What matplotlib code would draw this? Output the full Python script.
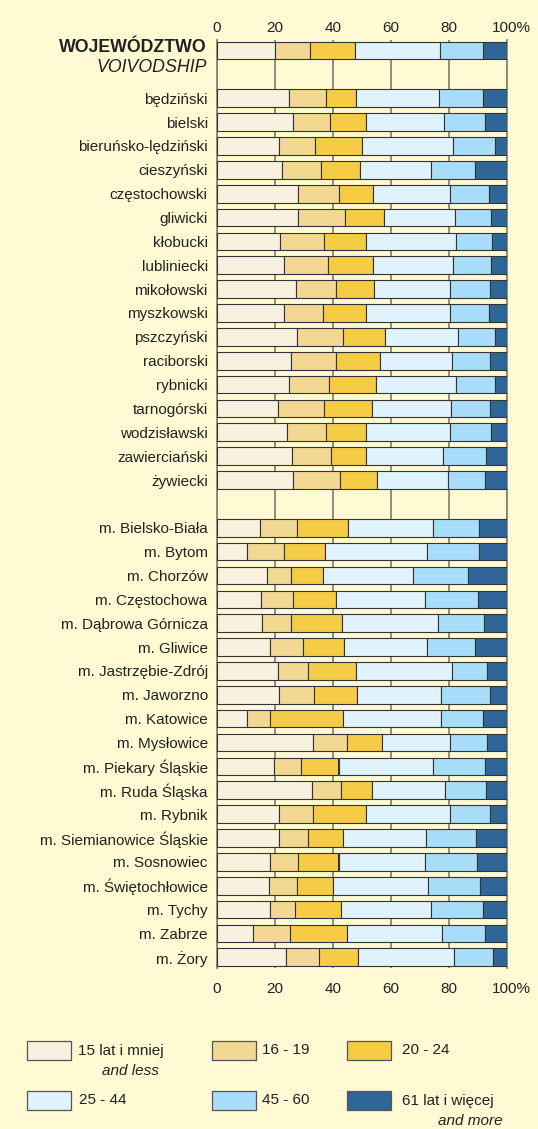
import matplotlib
matplotlib.use("Agg")
import matplotlib.pyplot as plt
import matplotlib.transforms as mtransforms
from matplotlib.patches import Rectangle
import numpy as np

plt.rcParams['font.family'] = ['Liberation Sans', 'DejaVu Sans']

powiats = ["będziński", "bielski", "bieruńsko-lędziński", "cieszyński", "częstochowski",
           "gliwicki", "kłobucki", "lubliniecki", "mikołowski", "myszkowski", "pszczyński",
           "raciborski", "rybnicki", "tarnogórski", "wodzisławski", "zawierciański", "żywiecki"]
cities = ["m. Bielsko-Biała", "m. Bytom", "m. Chorzów", "m. Częstochowa", "m. Dąbrowa Górnicza",
          "m. Gliwice", "m. Jastrzębie-Zdrój", "m. Jaworzno", "m. Katowice", "m. Mysłowice",
          "m. Piekary Śląskie", "m. Ruda Śląska", "m. Rybnik", "m. Siemianowice Śląskie",
          "m. Sosnowiec", "m. Świętochłowice", "m. Tychy", "m. Zabrze", "m. Żory"]

# order: voivodship, powiats (17), cities (19)
age_15_less = [20.1,
               25.1, 26.4, 21.4, 22.6, 28.0, 28.2, 21.8, 23.3, 27.4, 23.3, 27.7, 25.5, 24.8, 21.0, 24.4, 26.0, 26.4,
               15.1, 10.6, 17.2, 15.2, 15.5, 18.5, 21.0, 21.4, 10.6, 33.1, 19.7, 32.8, 21.4, 21.4, 18.5, 18.0, 18.5, 12.6, 24.0]
age_16_19 = [11.9,
             12.6, 12.6, 12.6, 13.5, 14.3, 16.2, 15.1, 15.2, 13.6, 13.3, 16.0, 15.5, 13.8, 15.9, 13.4, 13.3, 16.2,
             12.7, 12.5, 8.3, 11.2, 10.1, 11.4, 10.4, 12.2, 7.9, 11.7, 9.3, 10.0, 11.7, 10.0, 9.7, 9.7, 8.4, 12.6, 11.3]
age_20_24 = [15.8,
             10.5, 12.6, 16.2, 13.3, 11.7, 13.4, 14.7, 15.5, 13.4, 14.9, 14.5, 15.4, 16.2, 16.7, 13.7, 12.2, 12.6,
             17.4, 14.1, 11.1, 14.6, 17.5, 14.1, 16.8, 14.9, 25.2, 12.1, 13.0, 10.8, 18.4, 12.3, 13.8, 12.3, 15.9, 19.9, 13.3]
age_25_44 = [29.3,
             28.4, 26.7, 31.4, 24.4, 26.3, 24.3, 30.9, 27.6, 26.1, 28.8, 25.1, 24.9, 27.7, 27.2, 29.0, 26.4, 24.7,
             29.3, 35.2, 31.2, 30.7, 33.1, 28.4, 32.9, 29.0, 33.8, 23.4, 32.5, 25.0, 28.8, 28.4, 29.7, 32.9, 31.0, 32.5, 33.2]
age_45_60 = [14.9,
             15.4, 14.1, 14.3, 15.4, 13.5, 12.5, 12.6, 13.0, 13.8, 13.5, 12.6, 13.0, 13.4, 13.5, 14.2, 15.0, 12.6,
             15.8, 17.9, 19.0, 18.3, 15.9, 16.8, 12.2, 16.8, 14.2, 13.0, 18.0, 14.3, 14.0, 17.4, 18.0, 17.9, 17.9, 14.8, 13.6]
age_61_more = [8.0,
               8.0, 7.6, 4.1, 10.8, 6.2, 5.4, 4.9, 5.4, 5.7, 6.2, 4.1, 5.7, 4.1, 5.7, 5.3, 7.1, 7.5,
               9.7, 9.7, 13.2, 10.0, 7.9, 10.8, 6.7, 5.7, 8.3, 6.7, 7.5, 7.1, 5.7, 10.5, 10.3, 9.2, 8.3, 7.6, 4.6]

xticks = [0, 20, 40, 60, 80, 100]
xtick_labels = ["0", "20", "40", "60", "80", "100%"]

series = [age_15_less, age_16_19, age_20_24, age_25_44, age_45_60, age_61_more]
colors = ["#f9f1df", "#f3d894", "#f5cc45", "#e0f2fc", "#a8ddf9", "#2e6698"]
bg = "#fffad3"

W, H = 538, 1129
fig = plt.figure(figsize=(W / 100, H / 100), dpi=100, facecolor=bg)
ax = fig.add_axes([216.7 / W, 1 - 968 / H, 290 / W, 928 / H])
ax.set_facecolor(bg)

# row positions: voivodship, gap, powiats, gap, cities
ypos = [0] + list(range(2, 2 + len(powiats))) + list(range(3 + len(powiats), 3 + len(powiats) + len(cities)))
ypos = np.array(ypos)

left = np.zeros(len(ypos))
for vals, col in zip(series, colors):
    vals = np.array(vals)
    ax.barh(ypos, vals, left=left, height=0.74, color=col, edgecolor="#333333", linewidth=0.8, zorder=3)
    left += vals

ax.set_xlim(0, 100)
ax.set_ylim(ypos[-1] + 0.45, -0.44)
ax.set_xticks(xticks)
ax.set_xticklabels(xtick_labels)
ax.xaxis.grid(True, color="#8c8474", linewidth=1.3, zorder=0)
ax.set_axisbelow(True)
ax.tick_params(axis="x", length=0, labeltop=True, labelbottom=True, labelsize=11, colors="#222222", pad=10)
ax.tick_params(axis="y", length=0, labelsize=11, colors="#222222", pad=6.5)

# shift the "100%" labels so that "100" sits on the tick; move top labels closer to the bars
offset = mtransforms.ScaledTranslation(4.5 / 100, 0, fig.dpi_scale_trans)
down = mtransforms.ScaledTranslation(0, -9 / 100, fig.dpi_scale_trans)
for t in ax.xaxis.get_major_ticks():
    t.label2.set_transform(t.label2.get_transform() + down)
    if t.label2.get_text() == "100%":
        t.label2.set_transform(t.label2.get_transform() + offset)
    if t.label1.get_text() == "100%":
        t.label1.set_transform(t.label1.get_transform() + offset)

ax.set_yticks(ypos[1:])
ax.set_yticklabels(powiats + cities)

for s in ["top", "bottom"]:
    ax.spines[s].set_visible(False)
for s in ["left", "right"]:
    ax.spines[s].set_color("#8c8474")
    ax.spines[s].set_linewidth(1.3)

trans = mtransforms.blended_transform_factory(ax.transAxes, ax.transData)
ax.text(-0.035, -0.12, "WOJEWÓDZTWO", transform=trans, ha="right", va="center",
        fontsize=12.8, fontweight="bold", color="#222222")
ax.text(-0.035, 0.7, "VOIVODSHIP", transform=trans, ha="right", va="center",
        fontsize=12.8, fontstyle="italic", color="#222222")

# legend
legend_items = [
    ("15 lat i mniej", "and less", 26.7, 1041, 78, 102, "left"),
    ("16 - 19", None, 212.3, 1041, 262, None, None),
    ("20 - 24", None, 346.7, 1041, 402, None, None),
    ("25 - 44", None, 26.7, 1091, 79, None, None),
    ("45 - 60", None, 212.3, 1091, 262, None, None),
    ("61 lat i więcej", "and more", 346.7, 1091, 402, 503, "right"),
]
for (lab, sub, bx, by, tx, sx, sha), col in zip(legend_items, colors):
    fig.patches.append(Rectangle((bx / W, 1 - (by + 19) / H), 44 / W, 19 / H,
                                 transform=fig.transFigure, facecolor=col,
                                 edgecolor="#555555", linewidth=0.9))
    fig.text(tx / W, 1 - (by + 9.5) / H, lab, ha="left", va="center", fontsize=11, color="#222222")
    if sub:
        fig.text(sx / W, 1 - (by + 30) / H, sub, ha=sha, va="center", fontsize=11,
                 fontstyle="italic", color="#222222")

fig.savefig("out.png", dpi=100, facecolor=bg)
